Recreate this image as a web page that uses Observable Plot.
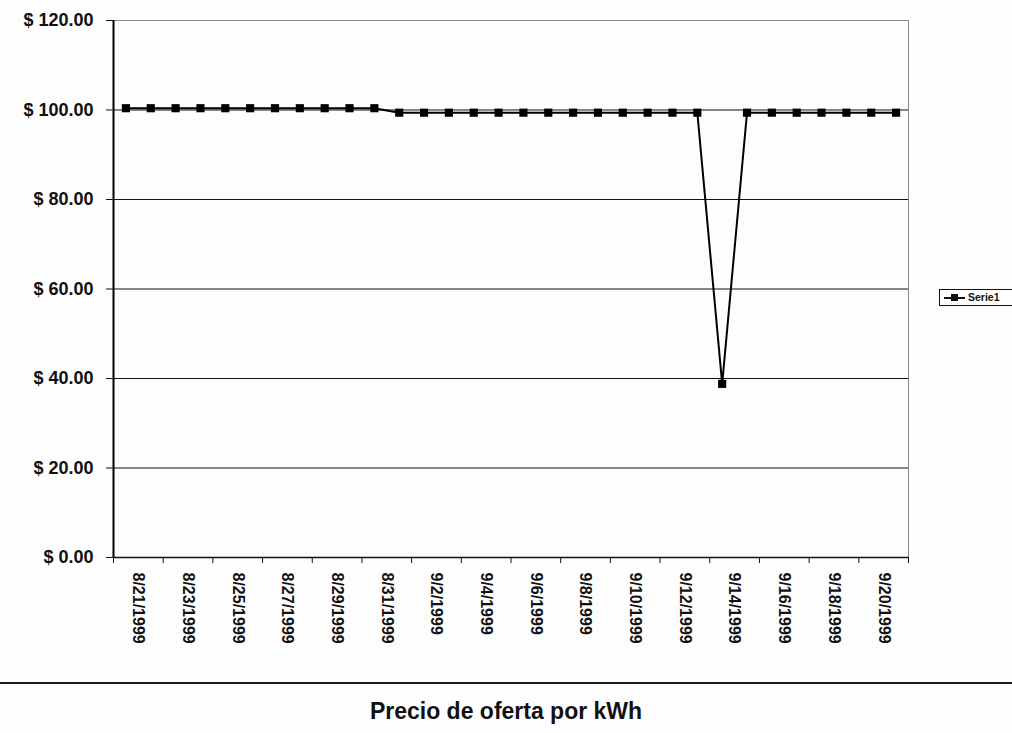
<!DOCTYPE html>
<html>
<head>
<meta charset="utf-8">
<script src="https://cdn.jsdelivr.net/npm/d3@7"></script>
<script src="https://cdn.jsdelivr.net/npm/@observablehq/plot@0.6"></script>
<style>
  html, body { margin: 0; padding: 0; background: #fdfdfd; }
  body { width: 1012px; height: 733px; position: relative; overflow: hidden; font-family: "Liberation Sans", Arial, sans-serif; }
  #chart svg { display: block; background: transparent; }
  #title { border-top: 2px solid #1a1a1a; margin-top: 0; padding-top: 14px; text-align: center; font-weight: bold; font-size: 23px; line-height: 26px; color: #111; }
  #legend { position: absolute; left: 939px; top: 289px; width: 90px; height: 15px; border: 1px solid #111; background: #fff; font-weight: bold; font-size: 10.5px; color: #111; }
  #legend .sw { position: absolute; left: 4px; top: 7px; width: 21px; height: 2px; background: #111; }
  #legend .mk { position: absolute; left: 11px; top: 4px; width: 7px; height: 7px; background: #111; }
  #legend .lb { position: absolute; left: 28px; top: 1px; }
</style>
</head>
<body>
<div id="chart"></div>
<div id="title">Precio de oferta por kWh</div>
<div id="legend"><span class="sw"></span><span class="mk"></span><span class="lb">Serie1</span></div>
<script>
// Categories (daily dates)
const dates = [
  "8/21/1999","8/22/1999","8/23/1999","8/24/1999","8/25/1999","8/26/1999","8/27/1999","8/28/1999",
  "8/29/1999","8/30/1999","8/31/1999","9/1/1999","9/2/1999","9/3/1999","9/4/1999","9/5/1999",
  "9/6/1999","9/7/1999","9/8/1999","9/9/1999","9/10/1999","9/11/1999","9/12/1999","9/13/1999",
  "9/14/1999","9/15/1999","9/16/1999","9/17/1999","9/18/1999","9/19/1999","9/20/1999","9/21/1999"
];
// Serie1 values ($ per kWh)
const prices = [
  100.4,100.4,100.4,100.4,100.4,100.4,100.4,100.4,
  100.4,100.4,100.4,99.4,99.4,99.4,99.4,99.4,
  99.4,99.4,99.4,99.4,99.4,99.4,99.4,99.4,
  38.8,99.4,99.4,99.4,99.4,99.4,99.4,99.4
];
const yTicks = [0, 20, 40, 60, 80, 100, 120];
const gridValues = [20, 40, 60, 80, 100];
const seriesName = "Serie1";

const data = dates.map((d, i) => ({ idx: i + 0.5, date: d, price: prices[i] }));
const n = dates.length;
const boundaryTicks = d3.range(0, n + 1, 2);
const labelPositions = d3.range(1, n, 2);

const chart = Plot.plot({
  width: 1012,
  height: 682,
  marginLeft: 113,
  marginRight: 104,
  marginTop: 20,
  marginBottom: 125,
  style: { background: "transparent", fontFamily: "Liberation Sans, Arial, sans-serif", color: "#111" },
  x: { domain: [0, n], axis: null, label: null },
  y: { domain: [0, 120], axis: null, label: null },
  marks: [
    Plot.ruleY(gridValues, { stroke: "#111", strokeWidth: 1.2 }),
    Plot.ruleY([120], { stroke: "#888", strokeWidth: 1 }),
    Plot.ruleX([n], { stroke: "#888", strokeWidth: 1 }),
    Plot.ruleY([0], { stroke: "#111", strokeWidth: 1.6 }),
    Plot.ruleX([0], { stroke: "#000", strokeWidth: 2 }),
    Plot.axisY({
      ticks: yTicks,
      tickFormat: d => "$ " + d.toFixed(2),
      tickSize: 7,
      tickPadding: 13,
      fontSize: 18,
      fontWeight: "bold",
      label: null
    }),
    Plot.axisX({
      ticks: boundaryTicks,
      tickFormat: () => "",
      tickSize: 6,
      label: null
    }),
    Plot.axisX({
      ticks: labelPositions,
      tickFormat: i => dates[i - 1],
      tickSize: 0,
      tickPadding: 15,
      tickRotate: 90,
      fontSize: 16,
      fontWeight: "bold",
      label: null
    }),
    Plot.line(data, { x: "idx", y: "price", stroke: "#000", strokeWidth: 2 }),
    Plot.dot(data, { x: "idx", y: "price", symbol: "square", r: 4.6, fill: "#000", stroke: null, title: d => seriesName + ": " + d.date })
  ]
});
document.getElementById("chart").appendChild(chart);
</script>
</body>
</html>
